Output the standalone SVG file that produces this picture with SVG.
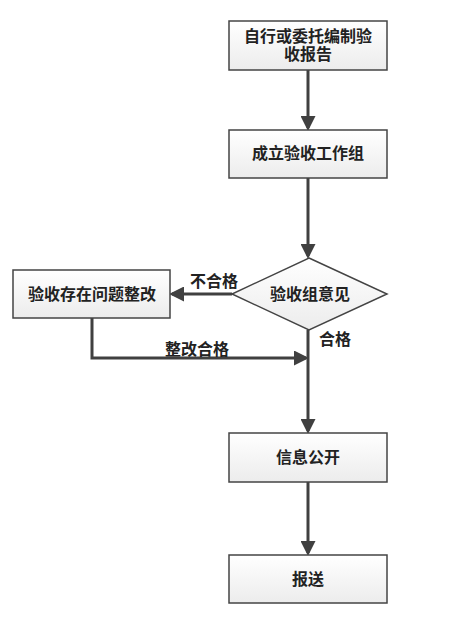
<svg xmlns="http://www.w3.org/2000/svg" width="476" height="628" viewBox="0 0 476 628">
<style>
.box{fill:url(#g);stroke:#444;stroke-width:1.5}
.t{font-family:"Liberation Sans","Noto Sans CJK SC",sans-serif;font-size:16px;font-weight:bold;fill:#222;text-anchor:middle}
.l{font-family:"Liberation Sans","Noto Sans CJK SC",sans-serif;font-size:16px;font-weight:bold;fill:#222}
.c{stroke:#404040;stroke-width:3;fill:none}
</style>
<defs>
<linearGradient id="g" x1="0" y1="0" x2="0" y2="1">
<stop offset="0" stop-color="#ffffff"/>
<stop offset="1" stop-color="#ececec"/>
</linearGradient>
<marker id="a" markerWidth="5" markerHeight="5" refX="4" refY="2.5" orient="auto" markerUnits="strokeWidth">
<path d="M0,0 L5,2.5 L0,5 Z" fill="#404040"/>
</marker>
</defs>
<rect width="476" height="628" fill="#fff"/>
<g id="connectors">
<line class="c" x1="308" y1="70" x2="308" y2="128" marker-end="url(#a)"/>
<line class="c" x1="308" y1="178" x2="308" y2="256" marker-end="url(#a)"/>
<line class="c" x1="232" y1="294" x2="172" y2="294" marker-end="url(#a)"/>
<polyline class="c" points="92,318 92,358 306,358" marker-end="url(#a)"/>
<line class="c" x1="308" y1="330" x2="308" y2="431" marker-end="url(#a)"/>
<line class="c" x1="308" y1="482" x2="308" y2="553" marker-end="url(#a)"/>
<text class="l" x="190" y="287">不合格</text>
<text class="l" x="165" y="355">整改合格</text>
<text class="l" x="319" y="345">合格</text>
</g>
<g id="n1">
<rect class="box" x="229" y="21" width="158" height="49"/>
<text class="t" x="308" y="42">自行或委托编制验</text>
<text class="t" x="308" y="60">收报告</text>
</g>
<g id="n2">
<rect class="box" x="229" y="130" width="158" height="48"/>
<text class="t" x="308" y="159">成立验收工作组</text>
</g>
<g id="n3">
<polygon class="box" points="309,258 387,294 309,330 232,294"/>
<text class="t" x="310" y="300">验收组意见</text>
</g>
<g id="n4">
<rect class="box" x="13" y="270" width="157" height="48"/>
<text class="t" x="92" y="300">验收存在问题整改</text>
</g>
<g id="n5">
<rect class="box" x="229" y="433" width="158" height="49"/>
<text class="t" x="308" y="463">信息公开</text>
</g>
<g id="n6">
<rect class="box" x="229" y="555" width="158" height="48"/>
<text class="t" x="308" y="585">报送</text>
</g>
</svg>
